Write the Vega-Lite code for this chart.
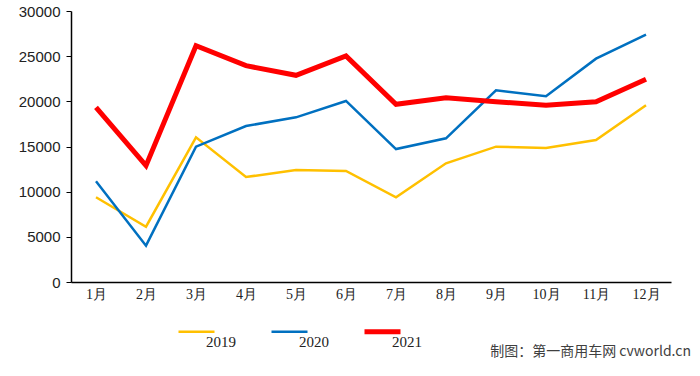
{
  "$schema": "https://vega.github.io/schema/vega-lite/v6.json",
  "width": 600,
  "height": 271,
  "autosize": {"type": "none"},
  "padding": {"left": 71, "top": 11, "right": 29, "bottom": 94},
  "background": "white",
  "title": {
    "text": "制图：第一商用车网 cvworld.cn",
    "orient": "bottom",
    "anchor": "end",
    "offset": -5,
    "dx": 20,
    "fontSize": 14,
    "fontWeight": "normal",
    "font": "Noto Sans CJK SC",
    "color": "#404040"
  },
  "config": {
    "view": {"stroke": null},
    "axis": {"grid": false, "domainColor": "#000000", "tickColor": "#000000"}
  },
  "data": {
    "values": [
      {"month": "1月", "year": "2019", "value": 9380},
      {"month": "2月", "year": "2019", "value": 6120},
      {"month": "3月", "year": "2019", "value": 16020},
      {"month": "4月", "year": "2019", "value": 11620},
      {"month": "5月", "year": "2019", "value": 12400},
      {"month": "6月", "year": "2019", "value": 12290},
      {"month": "7月", "year": "2019", "value": 9380},
      {"month": "8月", "year": "2019", "value": 13140},
      {"month": "9月", "year": "2019", "value": 14980},
      {"month": "10月", "year": "2019", "value": 14830},
      {"month": "11月", "year": "2019", "value": 15720},
      {"month": "12月", "year": "2019", "value": 19560},
      {"month": "1月", "year": "2020", "value": 11150},
      {"month": "2月", "year": "2020", "value": 4020},
      {"month": "3月", "year": "2020", "value": 14980},
      {"month": "4月", "year": "2020", "value": 17270},
      {"month": "5月", "year": "2020", "value": 18230},
      {"month": "6月", "year": "2020", "value": 20040},
      {"month": "7月", "year": "2020", "value": 14720},
      {"month": "8月", "year": "2020", "value": 15910},
      {"month": "9月", "year": "2020", "value": 21220},
      {"month": "10月", "year": "2020", "value": 20560},
      {"month": "11月", "year": "2020", "value": 24720},
      {"month": "12月", "year": "2020", "value": 27380},
      {"month": "1月", "year": "2021", "value": 19340},
      {"month": "2月", "year": "2021", "value": 12880},
      {"month": "3月", "year": "2021", "value": 26160},
      {"month": "4月", "year": "2021", "value": 23950},
      {"month": "5月", "year": "2021", "value": 22880},
      {"month": "6月", "year": "2021", "value": 25020},
      {"month": "7月", "year": "2021", "value": 19670},
      {"month": "8月", "year": "2021", "value": 20400},
      {"month": "9月", "year": "2021", "value": 19960},
      {"month": "10月", "year": "2021", "value": 19560},
      {"month": "11月", "year": "2021", "value": 19960},
      {"month": "12月", "year": "2021", "value": 22440}
    ]
  },
  "mark": {"type": "line", "strokeJoin": "miter", "strokeCap": "butt"},
  "encoding": {
    "x": {
      "field": "month",
      "type": "ordinal",
      "sort": null,
      "scale": {"type": "point", "padding": 0.5},
      "axis": {
        "title": null,
        "labelAngle": 0,
        "ticks": false,
        "labelPadding": 5,
        "labelFont": "Liberation Serif",
        "labelFontSize": 14,
        "labelColor": "#222222",
        "domainWidth": 1.5
      }
    },
    "y": {
      "field": "value",
      "type": "quantitative",
      "scale": {"domain": [0, 30000], "nice": false},
      "axis": {
        "title": null,
        "values": [0, 5000, 10000, 15000, 20000, 25000, 30000],
        "format": "d",
        "tickSize": 5,
        "labelPadding": 6,
        "labelFont": "Liberation Sans",
        "labelFontSize": 15,
        "labelColor": "#222222",
        "domainWidth": 1.5,
        "labelBaseline": "middle"
      }
    },
    "color": {
      "field": "year",
      "type": "nominal",
      "scale": {"domain": ["2019", "2020", "2021"], "range": ["#FFC000", "#0070C0", "#FF0000"]},
      "legend": {
        "title": null,
        "orient": "none",
        "legendX": 118,
        "legendY": 313,
        "direction": "horizontal",
        "symbolType": "stroke",
        "symbolSize": 1296,
        "labelBaseline": "top",
        "labelOffset": 2,
        "labelFont": "Liberation Serif",
        "labelFontSize": 15,
        "labelColor": "#222222",
        "columnPadding": 25,
        "gridAlign": "all",
        "encode": {
          "symbols": {"update": {"strokeWidth": {"signal": "datum.value === '2021' ? 5 : 2.5"}}},
          "labels": {"update": {"dy": {"value": 3}}}
        }
      }
    },
    "strokeWidth": {
      "condition": {"test": "datum.year === '2021'", "value": 5},
      "value": 2.5
    }
  }
}
